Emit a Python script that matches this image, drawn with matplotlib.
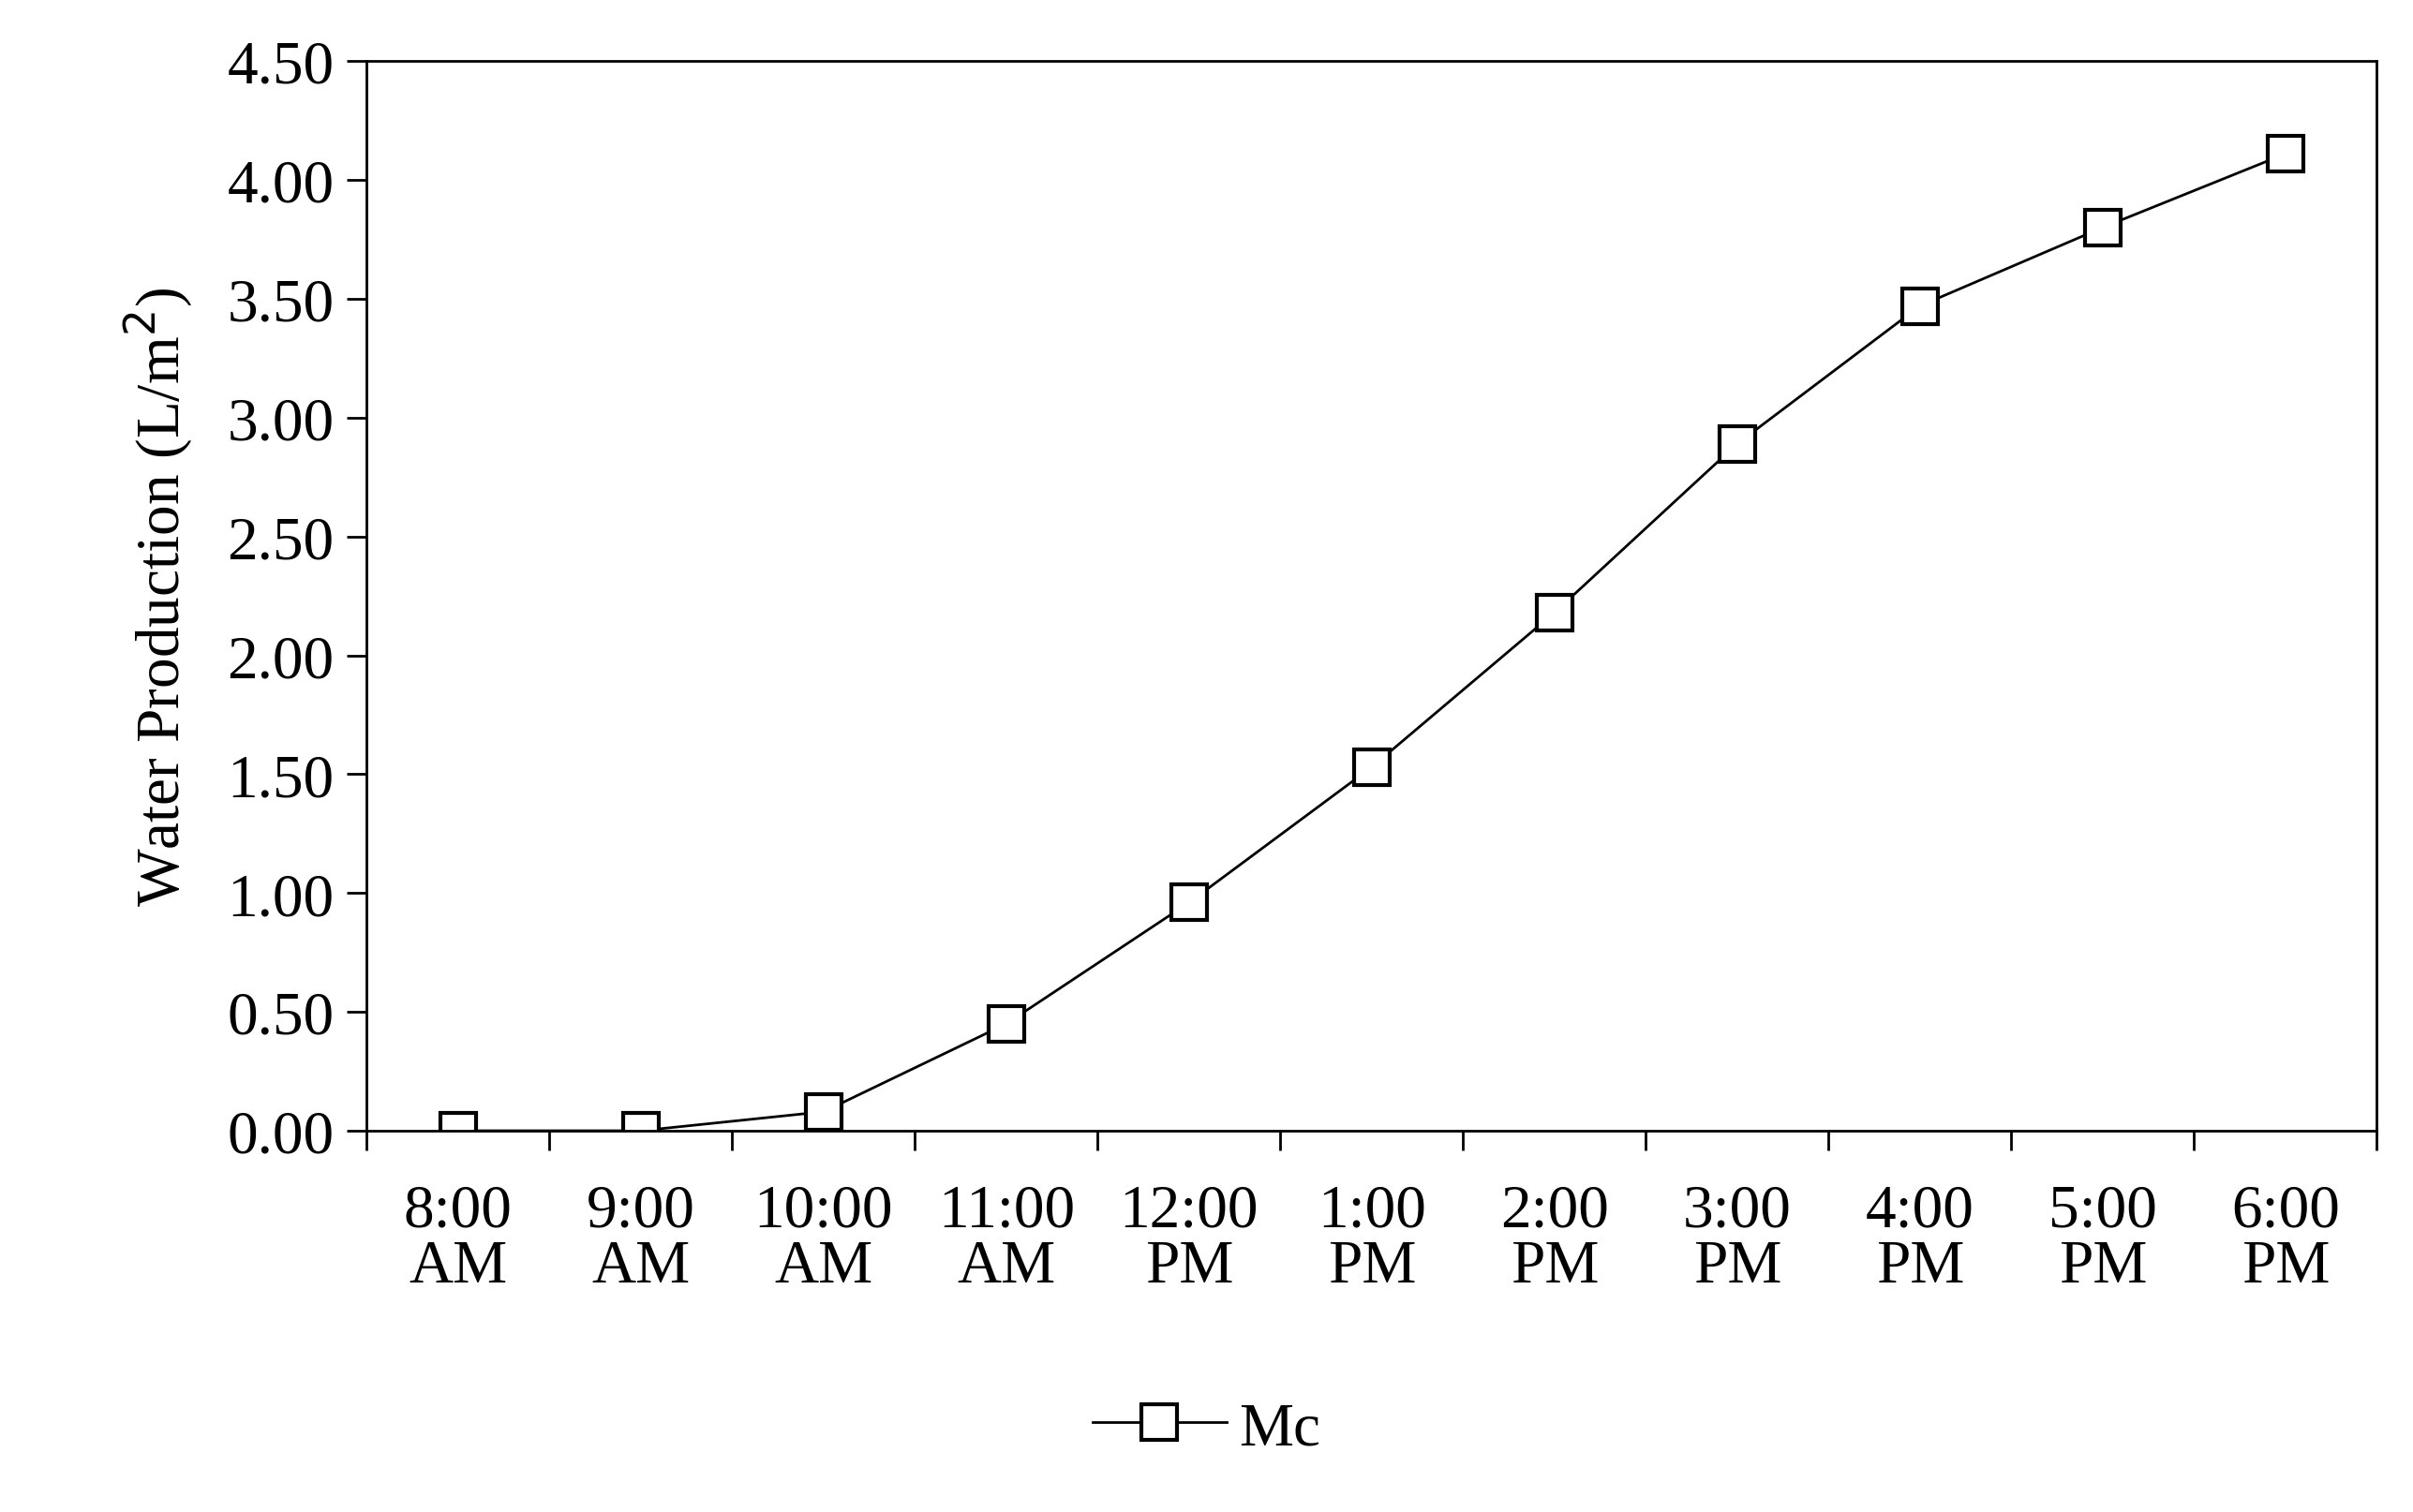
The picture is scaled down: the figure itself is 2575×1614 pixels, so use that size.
import matplotlib.pyplot as plt
import numpy as np

times = ["8:00\nAM", "9:00\nAM", "10:00\nAM", "11:00\nAM", "12:00\nPM", "1:00\nPM",
         "2:00\nPM", "3:00\nPM", "4:00\nPM", "5:00\nPM", "6:00\nPM"]
mc = [0.0, 0.0, 0.08, 0.45, 0.96, 1.53, 2.18, 2.89, 3.47, 3.80, 4.11]

plt.rcParams["font.family"] = ["Liberation Serif", "DejaVu Serif"]
plt.rcParams["font.size"] = 47

fig = plt.figure(figsize=(25.75, 16.15), dpi=100)
ax = fig.add_axes([0.152, 0.252, 0.833, 0.707])

x = np.arange(len(times))
ax.plot(x, mc, color="black", lw=2, marker="s", markersize=27,
        markerfacecolor="white", markeredgecolor="black", markeredgewidth=3, label="Mc")

ax.set_xlim(-0.5, len(times) - 0.5)
ax.set_ylim(0, 4.5)
ax.set_yticks(np.arange(0, 4.51, 0.5))
ax.set_yticklabels([f"{v:.2f}" for v in np.arange(0, 4.51, 0.5)])
ax.set_xticks(x)
ax.set_xticklabels(times, linespacing=1.0)
ax.set_xticks(np.arange(-0.5, len(times), 1), minor=True)
ax.tick_params(axis="x", which="major", length=0, pad=40)
ax.tick_params(axis="x", which="minor", length=15, width=2, direction="out")
ax.tick_params(axis="y", length=15, width=2, direction="out", pad=10)
for s in ax.spines.values():
    s.set_linewidth(2)
ax.set_ylabel("Water Production (L/m$^2$)", labelpad=25)

fig.legend(loc="lower center", bbox_to_anchor=(0.5, 0.0), frameon=False,
           handlelength=2.2, handletextpad=0.2, fontsize=47)

fig.savefig("out.png", dpi=100)
